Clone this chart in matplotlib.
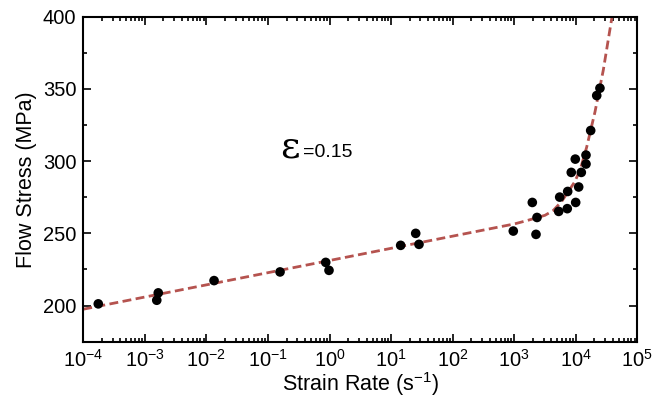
import matplotlib
matplotlib.use("Agg")
import matplotlib.pyplot as plt
from matplotlib.ticker import LogLocator, MultipleLocator, NullFormatter

plt.rcParams['font.family'] = ['Liberation Sans', 'DejaVu Sans']
plt.rcParams['mathtext.fontset'] = 'custom'
plt.rcParams['mathtext.rm'] = 'Liberation Sans'
plt.rcParams['mathtext.default'] = 'regular'

# measured points
rate = [1.75e-4, 1.65e-3, 1.56e-3, 0.0133, 0.157, 0.867, 0.98,
        14.3, 25.1, 28.4, 966, 1968, 2346, 2259,
        5280, 5480, 7280, 7390, 9970, 11150, 8450, 9820, 12300,
        14660, 14660, 17470, 21900, 24700]
stress = [201.2, 208.8, 203.7, 217.3, 223.3, 229.9, 224.4,
          241.7, 250.0, 242.4, 251.6, 271.4, 261.0, 249.3,
          265.2, 275.1, 267.1, 279.0, 271.4, 282.1, 292.2, 301.4, 292.2,
          298.0, 304.2, 321.2, 345.4, 350.5]

# fitted curve
fit_rate = [1e-4, 1e3, 1.66e3, 3.16e3, 4.3e3, 5.9e3, 9.7e3, 1.2e4, 1.5e4,
            2.05e4, 2.8e4, 3.37e4, 3.92e4, 4.2e4]
fit_stress = [197.5, 256.5, 259.0, 262.5, 265.8, 272.1, 285.9, 295.1, 309.5,
              334.0, 363.0, 384.0, 401.0, 409.0]

fig = plt.figure(figsize=(6.54, 3.99), dpi=100)
ax = fig.add_axes([0.1274, 0.1436, 0.8471, 0.8146])

ax.plot(fit_rate, fit_stress, color='#B5534F', lw=2.0, ls=(0, (3.2, 1.6)), zorder=2)
ax.scatter(rate, stress, s=48, color='black', zorder=3, edgecolors='none')

ax.set_xscale('log')
ax.set_xlim(1e-4, 1e5)
ax.set_ylim(175, 400)
ax.xaxis.set_major_locator(LogLocator(base=10, numticks=20))
ax.xaxis.set_minor_locator(LogLocator(base=10, subs=range(2, 10), numticks=100))
ax.xaxis.set_minor_formatter(NullFormatter())
ax.yaxis.set_major_locator(MultipleLocator(50))
ax.yaxis.set_minor_locator(MultipleLocator(25))

for s in ax.spines.values():
    s.set_linewidth(1.5)
ax.tick_params(which='both', direction='in', top=True, right=True, width=1.2, labelsize=14.5)
ax.tick_params(which='major', length=6, pad=5)
ax.tick_params(which='minor', length=3)

ax.set_xlabel('Strain Rate (s$^{-1}$)', fontsize=15.5, labelpad=0)
ax.set_ylabel('Flow Stress (MPa)', fontsize=15.5, labelpad=4)

ax.text(0.356, 0.567, 'ε', transform=ax.transAxes, fontsize=27,
        family='DejaVu Serif', va='baseline')
ax.text(0.396, 0.567, '=0.15', transform=ax.transAxes, fontsize=14, va='baseline')

fig.savefig('out.png', dpi=100)
